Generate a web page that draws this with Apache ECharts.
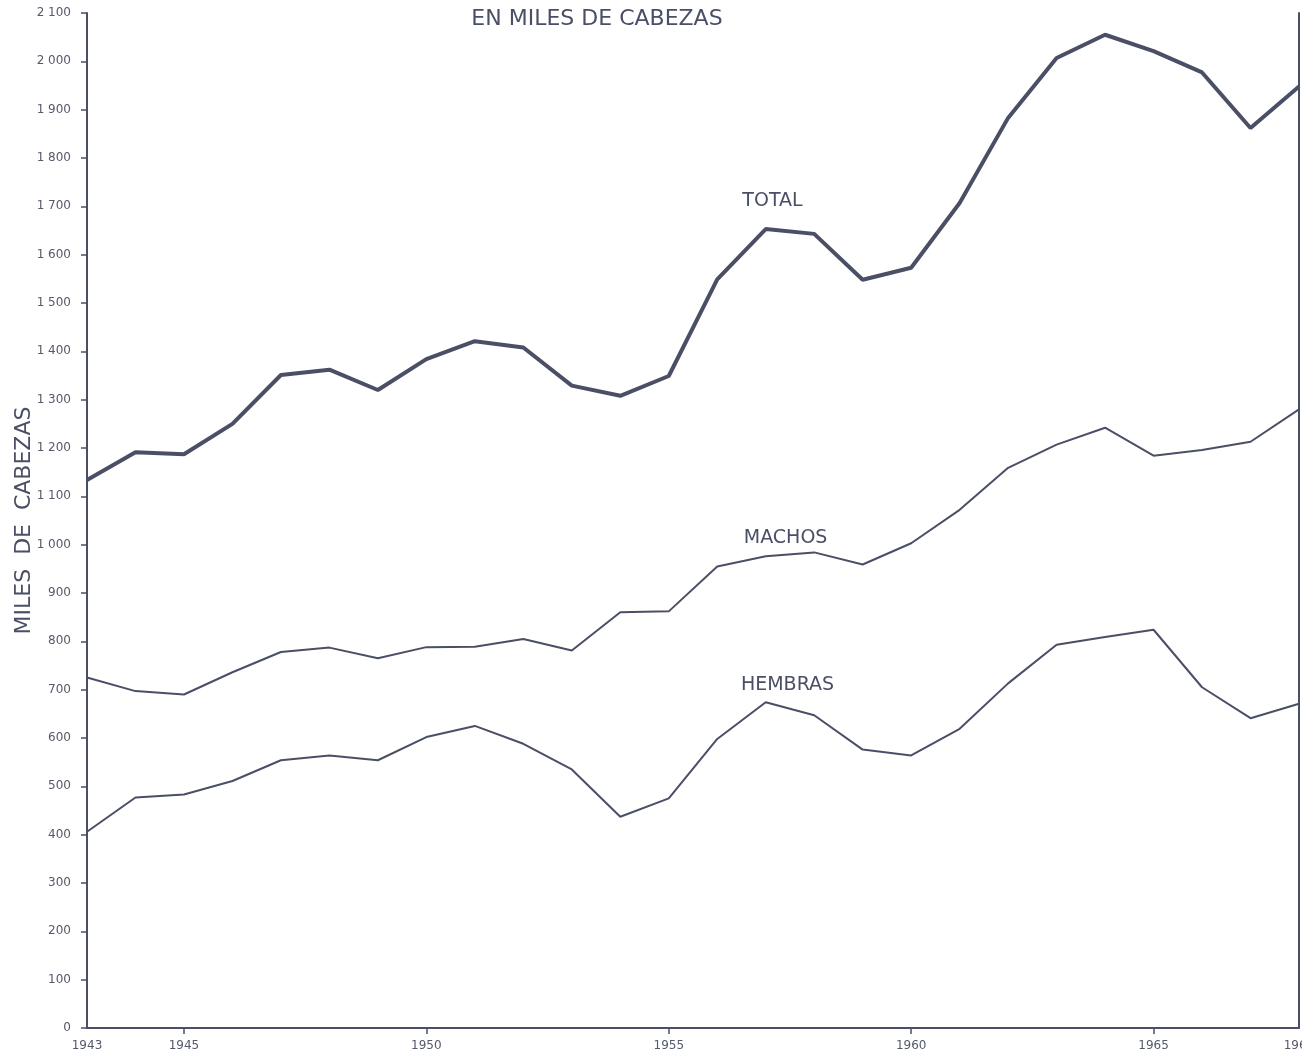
<!DOCTYPE html>
<html>
<head>
<meta charset="utf-8">
<script src="https://cdn.jsdelivr.net/npm/echarts@6/dist/echarts.min.js"></script>
<style>
html,body{margin:0;padding:0;background:#fff;}
#chart{width:1302px;height:1052px;}
</style>
</head>
<body>
<div id="chart"></div>
<script>
const years = [1943,1944,1945,1946,1947,1948,1949,1950,1951,1952,1953,1954,1955,1956,1957,1958,1959,1960,1961,1962,1963,1964,1965,1966,1967,1968];
const total   = [1134,1191,1187,1250,1351,1362,1320,1384,1421,1408,1329,1308,1349,1549,1653,1643,1548,1573,1707,1883,2007,2055,2021,1977,1862,1948];
const machos  = [725,697,690,736,778,787,765,788,789,805,781,860,862,955,976,984,959,1003,1072,1159,1207,1242,1184,1196,1213,1280];
const hembras = [406,477,483,511,554,564,554,602,625,588,535,437,475,598,674,647,576,564,619,713,793,809,824,705,641,671];
const xLabelYears = [1943,1945,1950,1955,1960,1965,1968];
const xTickYears = [1945,1950,1955,1960,1965];
const title = 'EN MILES DE CABEZAS';
const yName = 'MILES  DE  CABEZAS';
const seriesNames = ['TOTAL','MACHOS','HEMBRAS'];
const labelAnchors = [[1957.14,1711],[1957.41,1013],[1957.45,709]];

const ink = '#4a4f66';
const chart = echarts.init(document.getElementById('chart'));
const toPairs = arr => arr.map((v,i)=>[years[i], v]);
const fmtY = v => v >= 1000 ? Math.floor(v/1000) + ' ' + String(v%1000).padStart(3,'0') : String(v);

function mk(idx, values, width){
  return {
    name: seriesNames[idx], type:'line', data: toPairs(values), symbol:'none',
    lineStyle:{color:ink, width:width}, z: 3,
    markPoint:{
      symbol:'circle', symbolSize:0, silent:true,
      label:{show:true, position:'inside', formatter: seriesNames[idx], color:ink,
             fontFamily:'DejaVu Sans', fontSize:19},
      data:[{coord: labelAnchors[idx]}]
    }
  };
}

chart.setOption({
  animation:false,
  backgroundColor:'#fff',
  title:{text:title, left:592, top:3, textAlign:'center',
         textStyle:{fontFamily:'DejaVu Sans', fontSize:22, fontWeight:'normal', color:ink}},
  grid:{left:87, right:3, top:13, bottom:24, outerBoundsMode:'none', containLabel:false},
  xAxis:{type:'value', min:1943, max:1968,
    axisLine:{show:true, lineStyle:{color:ink, width:2}},
    axisTick:{show:true, customValues:xTickYears, length:6, lineStyle:{color:ink, width:1.5}},
    axisLabel:{customValues:xLabelYears, formatter: v=>String(v), margin:12, color:'#555a6a',
               fontFamily:'DejaVu Sans', fontSize:12},
    splitLine:{show:false}},
  yAxis:[{type:'value', min:0, max:2100, interval:100,
    name: yName, nameLocation:'middle', nameRotate:90, nameGap:52, nameMoveOverlap:false,
    nameTextStyle:{fontFamily:'DejaVu Sans', fontSize:22, color:ink},
    axisLine:{show:true, lineStyle:{color:ink, width:2}},
    axisTick:{show:true, length:6, lineStyle:{color:ink, width:1.5}},
    axisLabel:{formatter: fmtY, margin:16, color:'#555a6a', fontFamily:'DejaVu Sans', fontSize:12},
    splitLine:{show:false}},
   {type:'value', min:0, max:2100, position:'right',
    axisLine:{show:true, lineStyle:{color:ink, width:2}},
    axisTick:{show:false}, axisLabel:{show:false}, splitLine:{show:false}}],
  series:[mk(0,total,4), mk(1,machos,2), mk(2,hembras,2)]
});
</script>
</body>
</html>
